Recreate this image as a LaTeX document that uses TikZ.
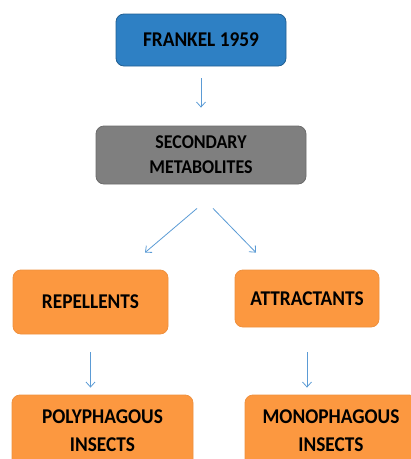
\documentclass[tikz,border=0pt]{standalone}
\usepackage{fontspec}
\setmainfont{Carlito}[FakeStretch=0.92]
\usetikzlibrary{arrows.meta,positioning}
\definecolor{boxblue}{RGB}{46,128,196}
\definecolor{boxgray}{RGB}{127,127,127}
\definecolor{boxorange}{RGB}{252,152,64}
\definecolor{linkblue}{RGB}{91,155,213}
\tikzset{
    box/.style={
        rounded corners=8pt,
        align=center,
        inner sep=0pt,
        line width=0.8pt,
        font=\fontsize{21}{26}\selectfont\bfseries
    },
    rootbox/.style={
        box,
        fill=boxblue,
        draw=boxblue!75!black
    },
    midbox/.style={
        box,
        fill=boxgray,
        draw=boxgray!85!black,
        font=\fontsize{19.5}{25}\selectfont\bfseries
    },
    leafbox/.style={
        box,
        fill=boxorange,
        draw=boxorange!95!black,
        font=\fontsize{21}{28}\selectfont\bfseries
    },
    link/.style={
        draw=linkblue,
        line width=0.8pt,
        -{Straight Barb[length=5pt,width=9pt]}
    }
}
\begin{document}
\begin{tikzpicture}[x=1pt,y=-1pt]
    \useasboundingbox (0,0) rectangle (411,459);
    \clip (0,0) rectangle (411,459);
    \node[rootbox, minimum width=170pt, minimum height=52pt] (frankel) at (201,40) {FRANKEL 1959};
    \node[midbox, minimum width=210pt, minimum height=58pt] (secmet) at (201,155) {SECONDARY\\METABOLITES};
    \node[leafbox, minimum width=155pt, minimum height=64pt] (repel) at (90.5,302) {REPELLENTS};
    \node[leafbox, minimum width=144pt, minimum height=57pt] (attract) at (307,298.5) {ATTRACTANTS};
    \node[leafbox, minimum width=181pt, minimum height=72pt] (poly) at (102.5,431) {POLYPHAGOUS\\INSECTS};
    \node[leafbox, minimum width=172pt, minimum height=72pt] (mono) at (331,431) {MONOPHAGOUS\\INSECTS};
    % connectors
    \draw[link, shorten <=12pt, shorten >=18pt] (frankel) -- (secmet);
    \draw[link] ([xshift=-4pt,yshift=-24pt]secmet.south) -- ([xshift=54.5pt,yshift=17pt]repel.north);
    \draw[link] ([xshift=12pt,yshift=-24pt]secmet.south) -- ([xshift=-51pt,yshift=17pt]attract.north);
    \draw[link, shorten <=18pt, shorten >=7pt] (repel.south) -- (repel.south |- poly.north);
    \draw[link, shorten <=25pt, shorten >=7pt] (attract.south) -- (attract.south |- mono.north);
\end{tikzpicture}
\end{document}
